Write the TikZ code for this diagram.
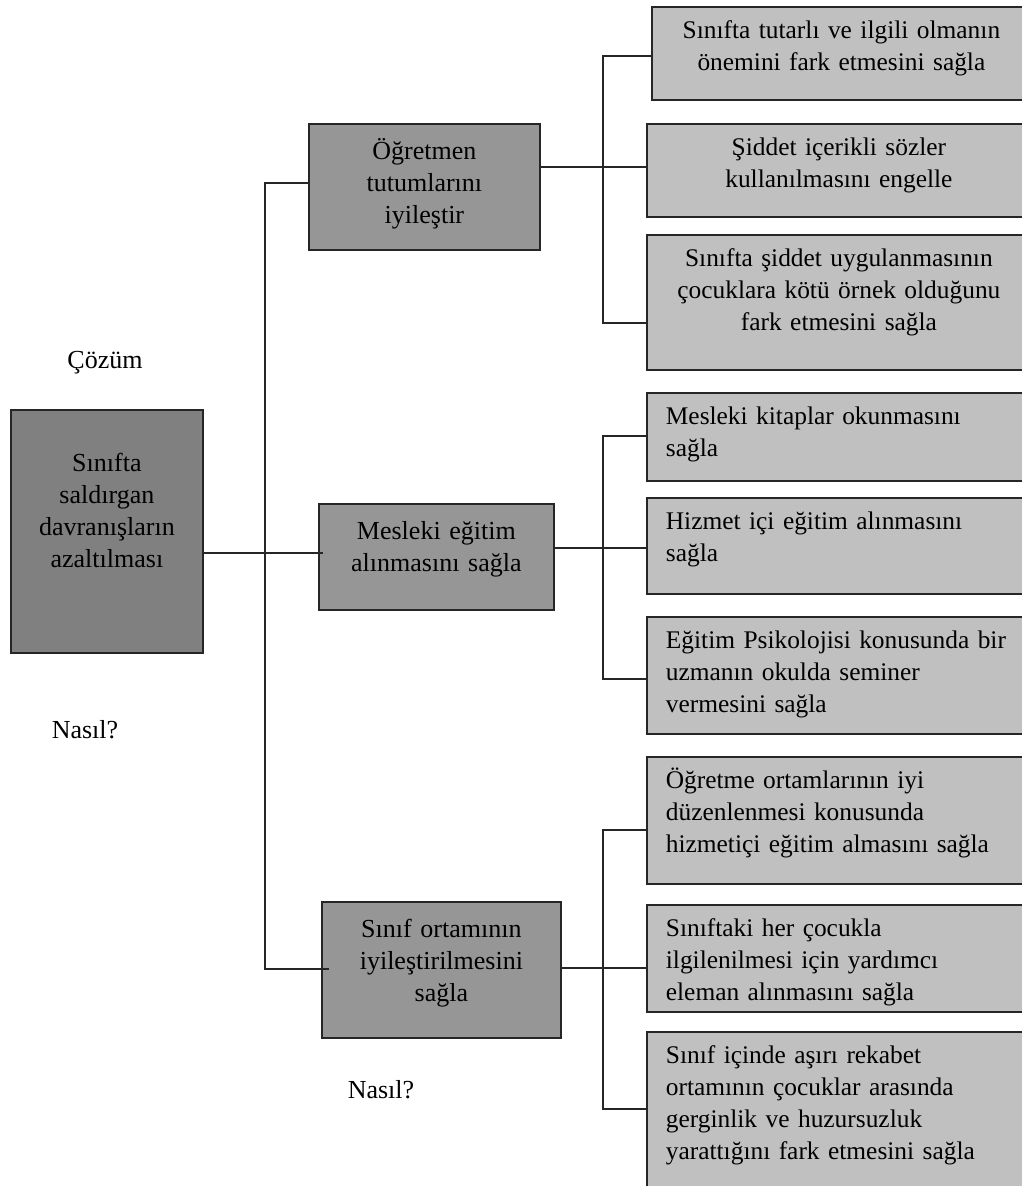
\documentclass[tikz,border=0pt]{standalone}
\usepackage{fontspec}
\setmainfont{Liberation Serif}
\usepackage{tikz}
\usetikzlibrary{positioning}
\definecolor{rootgray}{RGB}{128,128,128}
\definecolor{midgray}{RGB}{150,150,150}
\definecolor{leafgray}{RGB}{192,192,192}
\begin{document}
\begin{tikzpicture}[x=1pt,y=-1pt]
  \useasboundingbox (0,0) rectangle (1022,1186);
  \clip (0,0) rectangle (1022,1186);
    \tikzstyle{cell}=[draw=black!85,line width=1.8pt,inner ysep=0pt,anchor=north west,font=\fontsize{26pt}{32pt}\selectfont]
    \tikzstyle{rbox}=[cell,fill=rootgray,inner xsep=0pt,text width=192pt,align=center,text height=62pt]
    \tikzstyle{mbox}=[cell,fill=midgray,inner xsep=0pt,align=center,text height=36pt]
    \tikzstyle{lbox}=[cell,fill=leafgray,inner xsep=0pt,align=center,text height=32pt,font=\fontsize{25.4pt}{32pt}\selectfont]
    \tikzstyle{lbox_l}=[cell,fill=leafgray,inner xsep=19pt,text width=400pt,align=left,text height=32pt,font=\fontsize{25.4pt}{32pt}\selectfont]
    \tikzstyle{conn}=[draw=black!85,line width=1.8pt]
    \tikzstyle{note}=[anchor=base,font=\fontsize{26pt}{32pt}\selectfont]

  % root and the three ways
  \node (root) at (10,409) [rbox,text depth=181pt] {Sınıfta\\saldırgan\\davranışların\\azaltılması};
  \node (ogr) at (308,123) [mbox,text width=231pt,text depth=90pt] {Öğretmen\\tutumlarını\\iyileştir};
  \node (mes) at (318,503) [mbox,text width=235pt,text depth=70pt] {Mesleki eğitim\\alınmasını sağla};
  \node (ort) at (321,901) [mbox,text width=239pt,text depth=100pt] {Sınıf ortamının\\iyileştirilmesini\\sağla};

  % leaves
  \node (s1) at (651,6) [lbox,text width=379pt,text depth=61pt] {Sınıfta tutarlı ve ilgili olmanın\\önemini fark etmesini sağla};
  \node (s2) at (646,123) [lbox,text width=384pt,text depth=61pt] {Şiddet içerikli sözler\\kullanılmasını engelle};
  \node (s3) at (646,234) [lbox,text width=384pt,text depth=103pt] {Sınıfta şiddet uygulanmasının\\çocuklara kötü örnek olduğunu\\fark etmesini sağla};

  \node (k1) at (646,392) [lbox_l,text depth=56pt] {Mesleki kitaplar okunmasını\\sağla};
  \node (k2) at (646,497) [lbox_l,text depth=64pt] {Hizmet içi eğitim alınmasını\\sağla};
  \node (k3) at (646,616) [lbox_l,text depth=85pt] {Eğitim Psikolojisi konusunda bir\\uzmanın okulda seminer\\vermesini sağla};

  \node (o1) at (646,756) [lbox_l,text depth=95pt] {Öğretme ortamlarının iyi\\düzenlenmesi konusunda\\hizmetiçi eğitim almasını sağla};
  \node (o2) at (646,904) [lbox_l,text depth=75pt] {Sınıftaki her çocukla\\ilgilenilmesi için yardımcı\\eleman alınmasını sağla};
  \node (o3) at (646,1031) [lbox_l,text depth=138pt] {Sınıf içinde aşırı rekabet\\ortamının çocuklar arasında\\gerginlik ve huzursuzluk\\yarattığını fark etmesini sağla};

  % free texts
  \node (cozum) at (105,368) [note] {Çözüm};
  \node (nasil1) at (85,738) [note] {Nasıl?};
  \node (nasil2) at (381,1098) [note] {Nasıl?};

  % main trunk
  \coordinate (ttop) at (265,183);
  \coordinate (tmid) at (265,553);
  \coordinate (tbot) at (265,969);
  \draw[conn] (ogr.west |- ttop) -- (ttop) -- (tbot) -- ([xshift=8pt]ort.west |- tbot);
  \draw[conn] (root.east |- tmid) -- ([xshift=5pt]mes.west |- tmid);

  % first group
  \coordinate (g1a) at (603,56);
  \coordinate (g1b) at (603,167);
  \coordinate (g1c) at (603,323);
  \draw[conn] (ogr.east |- g1b) -- (g1b) -- (s2.west |- g1b);
  \draw[conn] (s1.west |- g1a) -- (g1a) -- (g1c) -- (s3.west |- g1c);

  % second group
  \coordinate (g2a) at (603,436);
  \coordinate (g2b) at (603,548);
  \coordinate (g2c) at (603,679);
  \draw[conn] (mes.east |- g2b) -- (g2b) -- (k2.west |- g2b);
  \draw[conn] (k1.west |- g2a) -- (g2a) -- (g2c) -- (k3.west |- g2c);

  % third group
  \coordinate (g3a) at (603,830);
  \coordinate (g3b) at (603,968);
  \coordinate (g3c) at (603,1109);
  \draw[conn] (ort.east |- g3b) -- (g3b) -- (o2.west |- g3b);
  \draw[conn] (o1.west |- g3a) -- (g3a) -- (g3c) -- (o3.west |- g3c);
\end{tikzpicture}
\end{document}
